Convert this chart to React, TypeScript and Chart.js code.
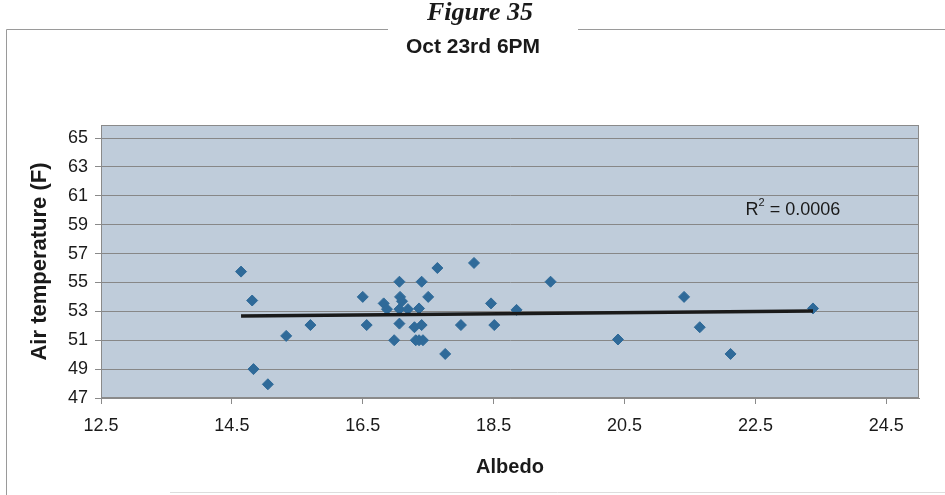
import React, { useEffect, useRef } from "react";
import { Chart, registerables } from "chart.js";

Chart.register(...registerables);

// ---- data ----
const albedo = [
  14.64, 14.81, 14.83, 15.05, 15.33, 15.7, 16.5, 16.56, 16.82, 16.87,
  16.98, 17.06, 17.07, 17.1, 17.06, 17.06, 17.19, 17.29, 17.36, 17.4,
  17.4, 17.31, 17.36, 17.42, 17.5, 17.64, 17.76, 18.0, 18.2, 18.46,
  18.51, 18.85, 19.37, 20.4, 21.41, 21.65, 22.12, 23.38,
];
const airTemp = [
  55.75, 53.75, 49.0, 47.95, 51.3, 52.05, 54.0, 52.05, 53.55, 53.15,
  51.0, 55.05, 54.0, 53.7, 53.15, 52.15, 53.15, 51.9, 53.2, 55.05,
  52.05, 51.0, 51.0, 51.0, 54.0, 56.0, 50.05, 52.05, 56.35, 53.55,
  52.05, 53.1, 55.05, 51.05, 54.0, 51.9, 50.05, 53.2,
];
const trendAlbedo = [14.64, 23.38];
const trendTemp = [52.68, 53.02];

const xTickValues = [12.5, 14.5, 16.5, 18.5, 20.5, 22.5, 24.5];
const yTickValues = [47, 49, 51, 53, 55, 57, 59, 61, 63, 65];

const figureLabel = "Figure 35";
const chartTitle = "Oct 23rd 6PM";
const xTitle = "Albedo";
const yTitle = "Air temperature (F)";
const r2Value = "0.0006";
const r2Pos = { x: 22.35, y: 60.0 };

const SANS = "'Liberation Sans', Arial, sans-serif";

const decorPlugin = {
  id: "decor",
  beforeDraw(chart: any) {
    const { ctx, chartArea: a, width, height } = chart;
    ctx.save();
    ctx.fillStyle = "#ffffff";
    ctx.fillRect(0, 0, width, height);
    ctx.fillStyle = "#bfccda";
    ctx.fillRect(a.left, a.top, a.right - a.left, a.bottom - a.top);
    ctx.restore();
  },
  afterDraw(chart: any) {
    const { ctx, chartArea: a, scales } = chart;
    ctx.save();
    // plot border
    ctx.strokeStyle = "#8a8a8a";
    ctx.lineWidth = 1;
    ctx.strokeRect(a.left + 0.5, a.top + 0.5, a.right - a.left - 1, a.bottom - a.top - 1);
    // outer frame
    ctx.strokeStyle = "#9a9a9a";
    ctx.beginPath();
    ctx.moveTo(6.5, 495);
    ctx.lineTo(6.5, 29.5);
    ctx.lineTo(388, 29.5);
    ctx.moveTo(578, 29.5);
    ctx.lineTo(945, 29.5);
    ctx.stroke();
    ctx.strokeStyle = "#dddddd";
    ctx.beginPath();
    ctx.moveTo(170, 492.5);
    ctx.lineTo(945, 492.5);
    ctx.stroke();
    // figure label
    ctx.fillStyle = "#1a1a1a";
    ctx.textAlign = "center";
    ctx.textBaseline = "middle";
    ctx.font = "italic bold 26px 'Liberation Serif', 'Times New Roman', serif";
    ctx.fillText(figureLabel, 480, 13);
    // chart title
    ctx.font = `bold 21px ${SANS}`;
    ctx.fillText(chartTitle, 473, 47);
    // R^2 label
    const px = scales.x.getPixelForValue(r2Pos.x);
    const py = scales.y.getPixelForValue(r2Pos.y);
    ctx.textAlign = "left";
    ctx.textBaseline = "middle";
    ctx.font = `18px ${SANS}`;
    ctx.fillText("R", px, py);
    let cx = px + ctx.measureText("R").width;
    ctx.font = `11px ${SANS}`;
    ctx.fillText("2", cx, py - 7);
    cx += ctx.measureText("2").width;
    ctx.font = `18px ${SANS}`;
    ctx.fillText(" = " + r2Value, cx, py);
    ctx.restore();
  },
};

export default function App() {
  const ref = useRef<HTMLCanvasElement | null>(null);

  useEffect(() => {
    const canvas = ref.current;
    if (!canvas) return;
    const chart = new Chart(canvas, {
      type: "scatter",
      data: {
        datasets: [
          {
            label: "Trend",
            data: trendAlbedo.map((x, i) => ({ x, y: trendTemp[i] })),
            showLine: true,
            borderColor: "#1a1a1a",
            borderWidth: 3.5,
            pointRadius: 0,
            order: 0,
          } as any,
          {
            label: "Air temperature",
            data: albedo.map((x, i) => ({ x, y: airTemp[i] })),
            pointStyle: "rectRot",
            pointRadius: 5.5,
            backgroundColor: "#2f6a99",
            borderColor: "#2f6a99",
            borderWidth: 1,
            order: 1,
          } as any,
        ],
      },
      options: {
        responsive: false,
        animation: false,
        layout: { padding: { left: 0, right: 26, top: 125, bottom: 0 } },
        plugins: {
          legend: { display: false },
          tooltip: { enabled: false },
          title: { display: false },
        },
        scales: {
          x: {
            type: "linear",
            min: 12.5,
            max: 25,
            afterBuildTicks: (s: any) => {
              s.ticks = xTickValues.map((v) => ({ value: v }));
            },
            afterFit: (s: any) => {
              s.height = 97;
            },
            grid: {
              drawOnChartArea: false,
              drawTicks: true,
              tickLength: 6,
              tickColor: "#8a8a8a",
            },
            border: { color: "#8a8a8a" },
            ticks: {
              padding: 11,
              color: "#1a1a1a",
              font: { family: SANS, size: 18 },
              callback: (v: any) => Number(v).toFixed(1),
            },
            title: {
              display: true,
              text: xTitle,
              color: "#1a1a1a",
              font: { family: SANS, size: 20, weight: "bold" },
              padding: { top: 0, bottom: 16 },
            },
          },
          y: {
            type: "linear",
            min: 47,
            max: 65.9,
            afterBuildTicks: (s: any) => {
              s.ticks = yTickValues.map((v) => ({ value: v }));
            },
            afterFit: (s: any) => {
              s.width = 101;
            },
            grid: {
              color: "#878787",
              lineWidth: 1,
              drawTicks: true,
              tickLength: 6,
              tickColor: "#8a8a8a",
            },
            border: { color: "#8a8a8a" },
            ticks: {
              padding: 7,
              color: "#1a1a1a",
              font: { family: SANS, size: 18 },
              callback: (v: any) => String(v),
            },
            title: {
              display: true,
              text: yTitle,
              color: "#1a1a1a",
              font: { family: SANS, size: 22, weight: "bold" },
              padding: { top: 27, bottom: 0 },
            },
          },
        },
      },
      plugins: [decorPlugin],
    });
    return () => chart.destroy();
  }, []);

  return (
    <div style={{ position: "fixed", left: 0, top: 0, width: 945, height: 495, background: "#fff" }}>
      <canvas ref={ref} width={945} height={495} style={{ display: "block", width: 945, height: 495 }} />
    </div>
  );
}
